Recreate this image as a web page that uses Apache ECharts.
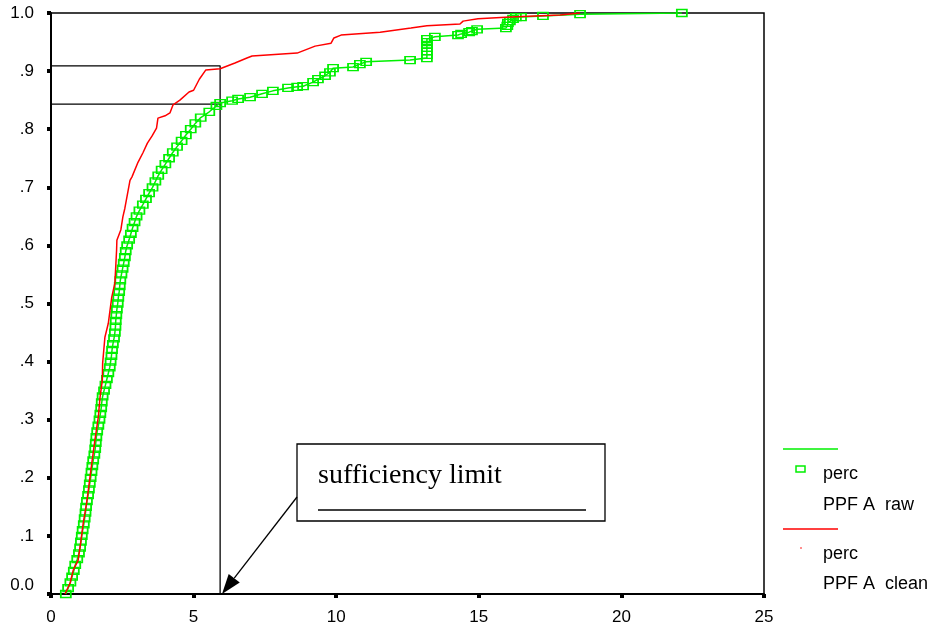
<!DOCTYPE html>
<html>
<head>
<meta charset="utf-8">
<script src="https://cdn.jsdelivr.net/npm/echarts@6/dist/echarts.min.js"></script>
<style>html,body{margin:0;padding:0;background:#fff}#c{width:936px;height:628px}</style>
</head>
<body>
<div id="c"></div>
<script>
// ---- data (x value, cumulative proportion) ----
const rawX = [0.52,0.60,0.68,0.74,0.80,0.85,0.92,0.98,1.02,1.05,1.08,1.11,1.15,1.18,1.21,1.23,1.26,1.30,1.33,1.36,1.39,1.42,1.45,1.48,1.52,1.55,1.57,1.59,1.62,1.66,1.70,1.73,1.76,1.78,1.81,1.86,1.91,1.96,2.01,2.06,2.09,2.12,2.14,2.17,2.21,2.24,2.26,2.27,2.29,2.31,2.34,2.36,2.39,2.41,2.43,2.47,2.51,2.55,2.59,2.62,2.67,2.74,2.80,2.86,2.93,3.00,3.10,3.22,3.33,3.44,3.56,3.66,3.76,3.88,4.01,4.14,4.27,4.42,4.58,4.73,4.90,5.06,5.25,5.55,5.80,5.93,6.35,6.56,6.98,7.40,7.78,8.31,8.63,8.84,9.19,9.36,9.61,9.78,9.89,10.59,10.83,11.05,12.59,13.18,13.18,13.18,13.18,13.18,13.18,13.18,13.46,14.27,14.38,14.66,14.76,14.94,15.95,16.00,16.02,16.09,16.20,16.30,16.48,17.25,18.55,22.12];
const rawP = [0.000,0.010,0.020,0.030,0.040,0.050,0.060,0.070,0.080,0.090,0.100,0.110,0.120,0.130,0.140,0.150,0.160,0.170,0.180,0.190,0.200,0.210,0.220,0.230,0.240,0.250,0.260,0.270,0.280,0.290,0.300,0.310,0.320,0.330,0.340,0.350,0.360,0.370,0.380,0.390,0.400,0.410,0.420,0.430,0.440,0.450,0.460,0.470,0.480,0.490,0.500,0.510,0.520,0.530,0.540,0.550,0.560,0.570,0.580,0.590,0.600,0.610,0.620,0.630,0.640,0.650,0.660,0.670,0.680,0.690,0.700,0.710,0.720,0.730,0.740,0.750,0.760,0.770,0.780,0.790,0.800,0.810,0.820,0.830,0.840,0.845,0.849,0.852,0.855,0.861,0.866,0.871,0.873,0.874,0.881,0.886,0.892,0.898,0.905,0.907,0.912,0.916,0.919,0.9225,0.928,0.934,0.940,0.945,0.950,0.955,0.959,0.962,0.964,0.967,0.969,0.972,0.974,0.978,0.983,0.986,0.990,0.993,0.993,0.995,0.998,1.000];
const cleanX = [0.49,0.67,0.78,0.95,1.04,1.13,1.25,1.34,1.43,1.54,1.66,1.72,1.80,1.81,1.89,2.01,2.13,2.24,2.30,2.31,2.45,2.52,2.59,2.77,2.84,3.05,3.22,3.38,3.54,3.70,3.75,4.00,4.17,4.28,4.52,4.84,5.00,5.20,5.43,5.93,6.45,6.87,7.05,8.63,9.26,9.82,9.92,10.17,11.54,12.62,13.18,14.34,14.45,14.97,16.09,17.85,18.55];
const cleanP = [0.000,0.019,0.041,0.058,0.088,0.122,0.157,0.191,0.225,0.265,0.305,0.339,0.368,0.397,0.442,0.466,0.511,0.535,0.592,0.609,0.627,0.649,0.664,0.712,0.718,0.743,0.759,0.776,0.788,0.802,0.819,0.823,0.828,0.842,0.850,0.864,0.867,0.886,0.902,0.904,0.914,0.9225,0.926,0.931,0.943,0.948,0.957,0.962,0.967,0.974,0.978,0.981,0.986,0.990,0.993,0.9966,1.000];
const limitX = 5.93;
const limitLevels = [0.909, 0.843];
const xTicks = [0, 5, 10, 15, 20, 25];
const yTickLabels = ['0.0','.1','.2','.3','.4','.5','.6','.7','.8','.9','1.0'];

const zip = (a, b) => a.map((v, i) => [v, b[i]]);

const chart = echarts.init(document.getElementById('c'), null, {renderer: 'canvas'});
const font = 'Liberation Sans, Arial, sans-serif';
const arrowTip = [222, 594], arrowTail = [297, 497];
const ux = (arrowTip[0]-arrowTail[0]), uy = (arrowTip[1]-arrowTail[1]);
const ul = Math.hypot(ux, uy), nx = ux/ul, ny = uy/ul;
const hb = [arrowTip[0]-20*nx, arrowTip[1]-20*ny];
const head = [arrowTip, [hb[0]-7*ny, hb[1]+7*nx], [hb[0]+7*ny, hb[1]-7*nx]];
const GREEN = '#00f000';

chart.setOption({
  animation: false,
  backgroundColor: '#fff',
  grid: {left: 51, top: 13, right: 172, bottom: 34, show: true, borderColor: '#000', borderWidth: 1.5, backgroundColor: 'transparent'},
  xAxis: {
    type: 'value', min: 0, max: 25, interval: 5,
    axisLine: {show: true, onZero: false, lineStyle: {color: '#000', width: 2}},
    axisTick: {show: true, length: 4, lineStyle: {color: '#000', width: 4}},
    axisLabel: {color: '#000', fontSize: 17, fontFamily: font, margin: 15,
      formatter: v => xTicks.includes(v) ? String(v) : ''},
    splitLine: {show: false}
  },
  yAxis: {
    type: 'value', min: 0, max: 1, interval: 0.1,
    axisLine: {show: true, onZero: false, lineStyle: {color: '#000', width: 2}},
    axisTick: {show: true, length: 4, lineStyle: {color: '#000', width: 4}},
    axisLabel: {color: '#000', fontSize: 17, fontFamily: font, margin: 17,
      formatter: v => {
        const i = Math.round(v*10);
        return i === 0 ? '{z|' + yTickLabels[i] + '}' : yTickLabels[i];
      },
      rich: {z: {fontSize: 17, fontFamily: font, color: '#000', padding: [0, 0, 17, 0]}}},
    splitLine: {show: false}
  },
  series: [
    {
      name: 'PPF A raw', type: 'line', data: zip(rawX, rawP),
      symbol: 'rect', symbolSize: [10, 7], showSymbol: true,
      lineStyle: {color: GREEN, width: 1.5},
      itemStyle: {color: 'rgba(255,255,255,0)', borderColor: GREEN, borderWidth: 1.5},
      z: 3
    },
    {
      name: 'PPF A clean', type: 'line', data: zip(cleanX, cleanP),
      showSymbol: false, symbol: 'none',
      lineStyle: {color: '#ff0000', width: 1.5},
      z: 4
    },
    {
      type: 'line', data: [[0, limitLevels[0]], [limitX, limitLevels[0]], [limitX, 0]],
      showSymbol: false, symbol: 'none', lineStyle: {color: '#000', width: 1.3}, z: 2
    },
    {
      type: 'line', data: [[0, limitLevels[1]], [limitX, limitLevels[1]]],
      showSymbol: false, symbol: 'none', lineStyle: {color: '#000', width: 1.3}, z: 2
    }
  ],
  graphic: [
    // annotation box
    {type: 'rect', shape: {x: 297, y: 444, width: 308, height: 77}, style: {fill: '#fff', stroke: '#000', lineWidth: 1.3}, z: 10},
    {type: 'text', x: 318, y: 490, style: {text: 'sufficiency limit', font: '28px "Liberation Serif", "Times New Roman", serif', fill: '#000', textVerticalAlign: 'bottom'}, z: 11},
    {type: 'line', shape: {x1: 318, y1: 510, x2: 586, y2: 510}, style: {stroke: '#000', lineWidth: 1.6}, z: 11},
    {type: 'line', shape: {x1: arrowTail[0], y1: arrowTail[1], x2: hb[0], y2: hb[1]}, style: {stroke: '#000', lineWidth: 1.3}, z: 11},
    {type: 'polygon', shape: {points: head}, style: {fill: '#000'}, z: 11},
    // legend
    {type: 'line', shape: {x1: 783, y1: 449, x2: 838, y2: 449}, style: {stroke: GREEN, lineWidth: 1.5}},
    {type: 'rect', shape: {x: 796, y: 466, width: 9, height: 6}, style: {fill: 'none', stroke: GREEN, lineWidth: 1.5}},
    {type: 'text', x: 823, y: 474, style: {text: 'perc', font: '18px ' + font, fill: '#000', textVerticalAlign: 'middle'}},
    {type: 'text', x: 823, y: 505, style: {text: 'PPF A  raw', font: '18px ' + font, fill: '#000', textVerticalAlign: 'middle'}},
    {type: 'line', shape: {x1: 783, y1: 529, x2: 838, y2: 529}, style: {stroke: '#ff0000', lineWidth: 1.5}},
    {type: 'circle', shape: {cx: 801, cy: 548, r: 0.8}, style: {fill: '#ff0000'}},
    {type: 'text', x: 823, y: 554, style: {text: 'perc', font: '18px ' + font, fill: '#000', textVerticalAlign: 'middle'}},
    {type: 'text', x: 823, y: 584, style: {text: 'PPF A  clean', font: '18px ' + font, fill: '#000', textVerticalAlign: 'middle'}}
  ]
});
</script>
</body>
</html>
